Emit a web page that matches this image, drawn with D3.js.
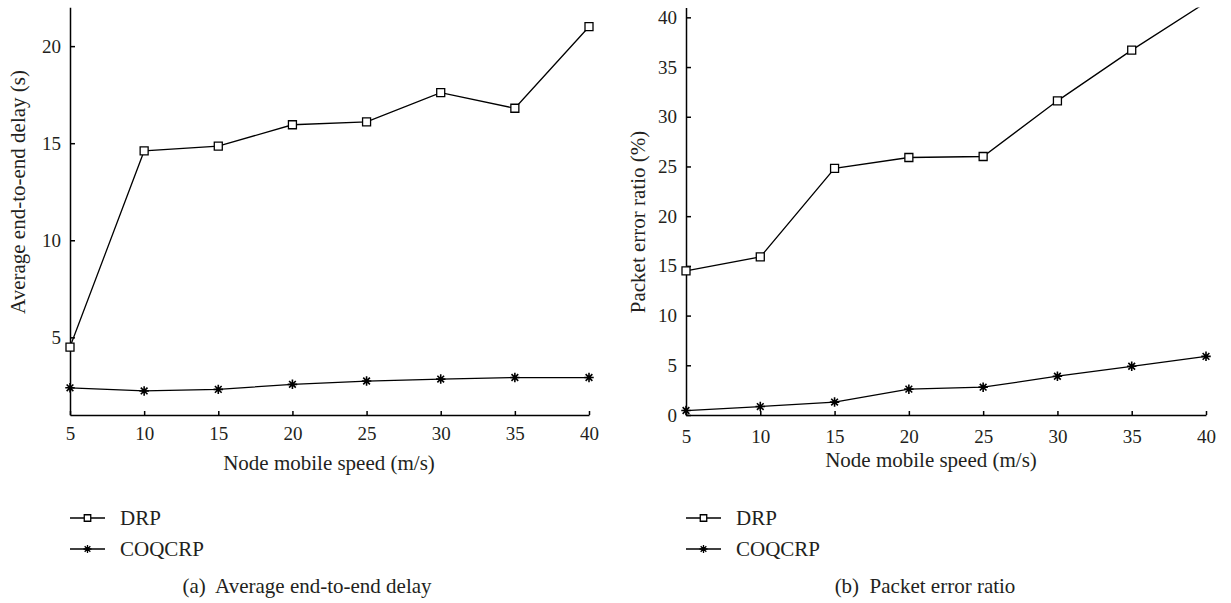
<!DOCTYPE html>
<html lang="en">

<head>
    <meta charset="UTF-8">
    <style type="text/css">
        body {
            margin: 0;
            background: #fff;
        }

        .axis path,
        .axis line {
            fill: none;
            stroke: #000;
            stroke-width: 1.5px;
        }

        .series {
            fill: none;
            stroke: #000;
            stroke-width: 1.3px;
        }
    </style>
</head>

<body>
    <script src="https://d3js.org/d3.v7.min.js"></script>
    <script type="text/javascript">

        // node mobile speed (m/s)
        var speeds = [5, 10, 15, 20, 25, 30, 35, 40];

        // (a) average end-to-end delay (s)
        var delayDRP = [4.5, 14.6, 14.85, 15.95, 16.1, 17.6, 16.8, 21.0];
        var delayCOQCRP = [2.4, 2.24, 2.32, 2.58, 2.75, 2.85, 2.93, 2.93];

        // (b) packet error ratio (%)
        var errDRP = [14.5, 15.9, 24.8, 25.9, 26.0, 31.6, 36.7, 41.5];
        var errCOQCRP = [0.45, 0.85, 1.3, 2.6, 2.8, 3.9, 4.9, 5.9];

        var delayTicks = [5, 10, 15, 20];
        var errTicks = [0, 5, 10, 15, 20, 25, 30, 35, 40];
        var seriesNames = ["DRP", "COQCRP"];

        var FONT = "'Liberation Serif', 'Times New Roman', 'DejaVu Serif', serif";
        var INK = "#231f20";

        var svg = d3.select("body").append("svg")
            .attr("width", 1231)
            .attr("height", 603)
            .attr("font-family", FONT);

        // 8-arm star like the '*' marker
        var star = {
            draw: function (ctx, size) {
                var r = Math.sqrt(size) / 2;
                for (var i = 0; i < 4; i++) {
                    var a = i * Math.PI / 4;
                    ctx.moveTo(-r * Math.cos(a), -r * Math.sin(a));
                    ctx.lineTo(r * Math.cos(a), r * Math.sin(a));
                }
            }
        };

        var markers = [
            { type: d3.symbolSquare, size: 64, legendSize: 42, fill: "#fff" },
            { type: star, size: 90, legendSize: 64, fill: "none" }
        ];

        function label(sel) {
            return sel.attr("font-family", FONT)
                .style("font-family", FONT)
                .attr("font-size", 21)
                .attr("fill", INK);
        }

        function drawChart(opt) {
            var g = svg.append("g");

            var x = d3.scaleLinear().domain([5, 40]).range(opt.xr);
            var y = d3.scaleLinear().domain(opt.yd).range(opt.yr);

            var clipId = "clip" + opt.id;
            g.append("clipPath").attr("id", clipId)
                .append("rect")
                .attr("x", opt.xr[0] - 10)
                .attr("y", opt.yr[1])
                .attr("width", opt.xr[1] - opt.xr[0] + 20)
                .attr("height", opt.yr[0] - opt.yr[1] + 10);

            var xAxis = d3.axisBottom(x)
                .tickValues(speeds)
                .tickSizeInner(-4)
                .tickSizeOuter(0)
                .tickPadding(opt.xPad);

            var yAxis = d3.axisLeft(y)
                .tickValues(opt.ticks)
                .tickSizeInner(-5)
                .tickSizeOuter(0)
                .tickPadding(9);

            var xg = g.append("g")
                .attr("class", "axis")
                .attr("transform", "translate(0," + opt.yr[0] + ")")
                .call(xAxis);

            var yg = g.append("g")
                .attr("class", "axis")
                .attr("transform", "translate(" + opt.xr[0] + ",0)")
                .call(yAxis);

            [xg, yg].forEach(function (ax) {
                ax.attr("font-family", FONT).attr("font-size", 19);
                ax.selectAll("text")
                    .style("font-family", FONT)
                    .style("font-size", "19px")
                    .attr("fill", INK);
            });

            var line = d3.line()
                .x(function (d) { return x(d[0]); })
                .y(function (d) { return y(d[1]); });

            var plot = g.append("g").attr("clip-path", "url(#" + clipId + ")");

            opt.series.forEach(function (vals, i) {
                var pts = d3.zip(speeds, vals);
                plot.append("path")
                    .attr("class", "series")
                    .attr("d", line(pts));

                plot.selectAll(".m" + i)
                    .data(pts)
                    .enter().append("path")
                    .attr("class", "m" + i)
                    .attr("transform", function (d) {
                        return "translate(" + x(d[0]) + "," + y(d[1]) + ")";
                    })
                    .attr("d", d3.symbol().type(markers[i].type).size(markers[i].size))
                    .attr("fill", markers[i].fill)
                    .attr("stroke", "#000")
                    .attr("stroke-width", i == 0 ? 1.3 : 1.6);
            });

            // axis titles
            g.append("text")
                .call(label)
                .attr("x", opt.xTitle[0])
                .attr("y", opt.xTitle[1])
                .attr("text-anchor", "middle")
                .text("Node mobile speed (m/s)");

            g.append("text")
                .call(label)
                .attr("transform", "translate(" + opt.yTitle[0] + "," + opt.yTitle[1] + ") rotate(-90)")
                .attr("text-anchor", "middle")
                .text(opt.yLabel);

            // legend
            var legend = g.selectAll(".legend")
                .data(seriesNames)
                .enter().append("g")
                .attr("class", "legend")
                .attr("transform", function (d, i) {
                    return "translate(" + opt.xr[0] + "," + (518 + i * 31) + ")";
                });

            legend.append("line")
                .attr("x1", 0).attr("x2", 35)
                .attr("stroke", "#000")
                .attr("stroke-width", 1.5);

            legend.append("path")
                .attr("transform", "translate(17.5,0)")
                .attr("d", function (d, i) {
                    return d3.symbol().type(markers[i].type).size(markers[i].legendSize)();
                })
                .attr("fill", function (d, i) { return markers[i].fill; })
                .attr("stroke", "#000")
                .attr("stroke-width", 1.3);

            legend.append("text")
                .call(label)
                .attr("x", 50)
                .attr("dy", "0.35em")
                .text(function (d) { return d; });

            // caption
            g.append("text")
                .call(label)
                .attr("x", opt.caption)
                .attr("y", 593)
                .attr("text-anchor", "middle")
                .style("white-space", "pre")
                .text(opt.captionText);
        }

        drawChart({
            id: "a",
            xr: [70, 589],
            yr: [415, 7.3],
            yd: [1, 22],
            ticks: delayTicks,
            xPad: 12,
            series: [delayDRP, delayCOQCRP],
            xTitle: [329, 470],
            yTitle: [25, 192],
            yLabel: "Average end-to-end delay (s)",
            caption: 307,
            captionText: "(a)  Average end-to-end delay"
        });

        drawChart({
            id: "b",
            xr: [686, 1206],
            yr: [415, 7.4],
            yd: [0, 41],
            ticks: errTicks,
            xPad: 15,
            series: [errDRP, errCOQCRP],
            xTitle: [931, 467],
            yTitle: [645, 222],
            yLabel: "Packet error ratio (%)",
            caption: 925,
            captionText: "(b)  Packet error ratio"
        });

    </script>
</body>

</html>
